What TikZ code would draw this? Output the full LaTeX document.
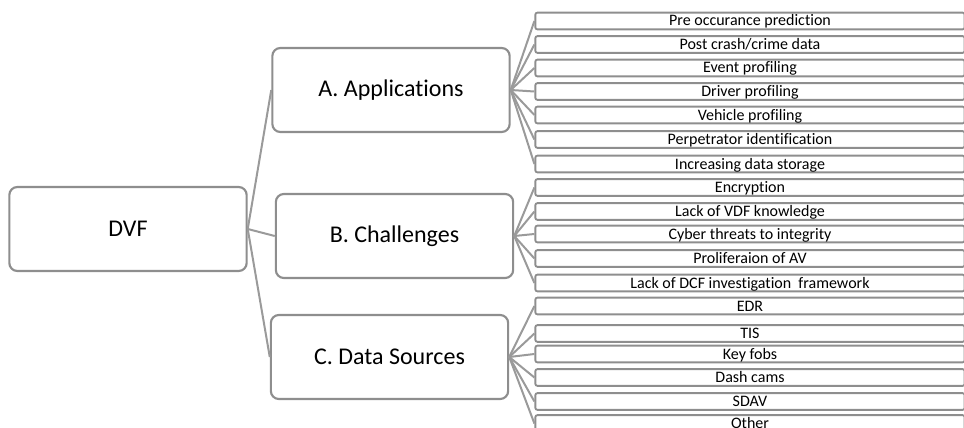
\documentclass[tikz,border=0pt]{standalone}
\usepackage{fontspec}
\setmainfont{Carlito}[Ligatures=NoCommon]
\definecolor{boxgray}{HTML}{8E8E8E}
\definecolor{linkgray}{HTML}{9A9A9A}

\begin{document}
\begin{tikzpicture}[x=0.75pt,y=-0.75pt,
	mainbox/.style={draw=boxgray,line width=1.6pt,rounded corners=6pt,fill=white,
		minimum width=178pt,minimum height=63pt,font=\fontsize{18}{22}\selectfont},
	leafbox/.style={draw=boxgray,line width=1.4pt,rounded corners=1.5pt,inner sep=0pt,
		minimum width=322pt,minimum height=12.5pt,text height=9pt,text depth=1.5pt,
		font=\fontsize{12}{14}\selectfont},
	link/.style={draw=linkgray,line width=1.5pt}]
	\clip (0,0) rectangle (964,428);
	\node[mainbox] (dvf) at (128,229) {DVF};
	\node[mainbox] (app) at (391,90) {A. Applications};
	\node[mainbox] (chal) at (394.5,236) {B. Challenges};
	\node[mainbox] (src) at (389.5,357) {C. Data Sources};
	\foreach \n in {app,chal,src} \draw[link] (dvf.east) -- (\n.west);
	% leaves, top to bottom
	\foreach \y/\t [count=\i] in {21/Pre occurance prediction,44.5/{Post crash/crime data},
		68/Event profiling,91.5/Driver profiling,115/Vehicle profiling,
		139.5/Perpetrator identification,164/Increasing data storage,
		187.5/Encryption,211.5/Lack of VDF knowledge,234/Cyber threats to integrity,
		258.5/Proliferaion of AV,283/Lack of DCF investigation~ framework,
		306/EDR,333.5/TIS,354/Key fobs,377.5/Dash cams,401.5/SDAV,423.5/Other}
		\node[leafbox] (l\i) at (750,\y) {\t};
	\foreach \i in {1,...,7} \draw[link] (app.east) -- (l\i.west);
	\foreach \i in {8,...,12} \draw[link] (chal.east) -- (l\i.west);
	\foreach \i in {13,...,18} \draw[link] (src.east) -- (l\i.west);
\end{tikzpicture}
\end{document}
